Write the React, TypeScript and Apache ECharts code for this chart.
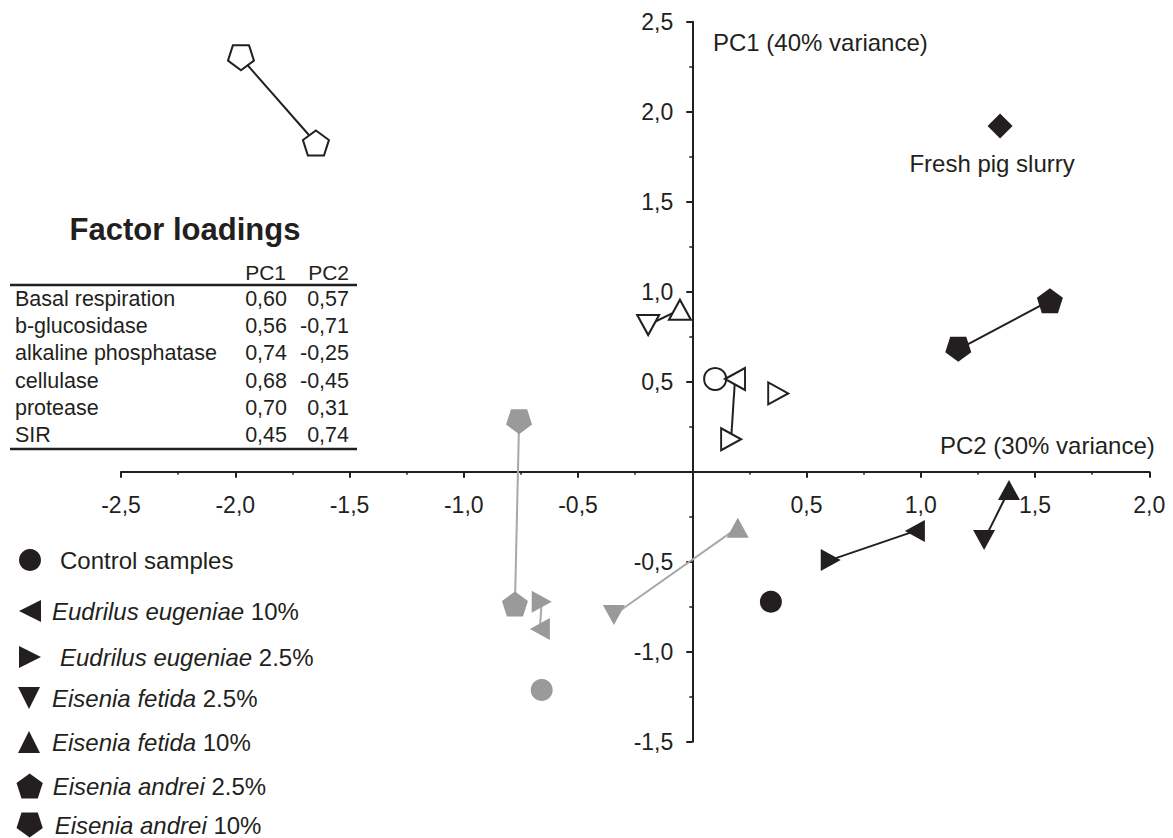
import React, { useEffect, useRef } from "react";
import * as echarts from "echarts";

// ---------- DATA ----------
const treatments = [
  "Control samples",
  "Eudrilus eugeniae 10%",
  "Eudrilus eugeniae 2.5%",
  "Eisenia fetida 2.5%",
  "Eisenia fetida 10%",
  "Eisenia andrei 2.5%",
  "Eisenia andrei 10%",
];

// each entry: [treatment index, PC2 score (x), PC1 score (y)]
const openScores: [number, number, number][] = [
  [0, 0.1, 0.515],
  [1, 0.187, 0.515],
  [2, 0.17, 0.18],
  [2, 0.376, 0.435],
  [3, -0.193, 0.815],
  [4, -0.054, 0.9],
  [6, -1.975, 2.3],
  [5, -1.647, 1.826],
];
const openLinks = [[1, 2], [4, 5], [6, 7]];

const grayScores: [number, number, number][] = [
  [0, -0.659, -1.213],
  [2, -0.659, -0.722],
  [1, -0.667, -0.874],
  [3, -0.343, -0.796],
  [4, 0.199, -0.311],
  [6, -0.758, 0.278],
  [5, -0.776, -0.735],
];
const grayLinks = [[1, 2], [3, 4], [5, 6]];

const blackScores: [number, number, number][] = [
  [0, 0.344, -0.722],
  [1, 0.974, -0.33],
  [2, 0.606, -0.49],
  [4, 1.386, -0.102],
  [3, 1.277, -0.38],
  [6, 1.164, 0.68],
  [5, 1.565, 0.95],
];
const blackLinks = [[1, 2], [3, 4], [5, 6]];

const slurryName = "Fresh pig slurry";
const slurryScore = [1.347, 1.92];

const pc2Range = [-2.5, 2.0];
const pc1Range = [-1.5, 2.5];
const tickStep = 0.5;

const xAxisTitle = "PC2 (30% variance)";
const yAxisTitle = "PC1 (40% variance)";

const tableTitle = "Factor loadings";
const tableHeaders = ["PC1", "PC2"];
const loadingVariables = [
  "Basal respiration",
  "b-glucosidase",
  "alkaline phosphatase",
  "cellulase",
  "protease",
  "SIR",
];
const loadingsPC1 = [0.6, 0.56, 0.74, 0.68, 0.7, 0.45];
const loadingsPC2 = [0.57, -0.71, -0.25, -0.45, 0.31, 0.74];

// ---------- STYLE ----------
const INK = "#231f20";
const GRAY = "#9a9a9a";
const GRAY_LINE = "#a8a8a8";
const FONT = '"Liberation Sans", Arial, Helvetica, sans-serif';

const GRID = { left: 121, top: 21.7, width: 1028.3, height: 720 };

const PENT_UP = "path://M50,0 L97.55,34.55 L79.39,90.45 L20.61,90.45 L2.45,34.55 Z";
const PENT_DOWN = "path://M50,90.45 L97.55,55.9 L79.39,0 L20.61,0 L2.45,55.9 Z";
const symbols = [
  "circle",
  "path://M0,5 L10,0 L10,10 Z",
  "path://M0,0 L10,5 L0,10 Z",
  "path://M0,0 L10,0 L5,10 Z",
  "path://M5,0 L10,10 L0,10 Z",
  PENT_UP,
  PENT_DOWN,
];
const symbolSizes: [number, number][] = [
  [22, 22],
  [20, 22],
  [20, 22],
  [22, 20],
  [22, 20],
  [26, 25],
  [26, 25],
];

const groupStyles = {
  open: { color: "#ffffff", borderColor: INK, borderWidth: 2, opacity: 1 },
  gray: { color: GRAY, borderColor: GRAY, borderWidth: 0, opacity: 1 },
  black: { color: INK, borderColor: INK, borderWidth: 0, opacity: 1 },
};

const groups = [
  { scores: openScores, links: openLinks, style: groupStyles.open, line: INK },
  { scores: grayScores, links: grayLinks, style: groupStyles.gray, line: GRAY_LINE },
  { scores: blackScores, links: blackLinks, style: groupStyles.black, line: INK },
];

// legend layout
const legendCY = [560, 611, 657, 698, 742, 786, 825];
const legendIconSize: [number, number][] = [
  [22, 22],
  [22, 23],
  [22, 24],
  [24, 22],
  [24, 22],
  [27, 25],
  [27, 25],
];
const legendTextX = [60, 52, 60, 53, 53, 53, 55];

const fmt = (v: number, d = 1) => v.toFixed(d).replace(".", ",");

function buildOption() {
  const scatterSeries = treatments.map((name, ti) => {
    const data: any[] = [];
    groups.forEach((g) => {
      g.scores.forEach((s) => {
        if (s[0] === ti) data.push({ value: [s[1], s[2]], itemStyle: { ...g.style } });
      });
    });
    return {
      type: "scatter",
      name,
      symbol: symbols[ti],
      symbolSize: symbolSizes[ti],
      data,
      z: 5,
      itemStyle: { opacity: 1 },
      emphasis: { disabled: true },
    };
  });

  const lineSeries: any[] = [];
  groups.forEach((g) => {
    g.links.forEach(([a, b]) => {
      lineSeries.push({
        type: "line",
        symbol: "none",
        data: [
          [g.scores[a][1], g.scores[a][2]],
          [g.scores[b][1], g.scores[b][2]],
        ],
        lineStyle: { color: g.line, width: 2, opacity: 1 },
        z: 2,
        silent: true,
      });
    });
  });

  const slurrySeries = {
    type: "scatter",
    name: slurryName,
    symbol: "diamond",
    symbolSize: [25, 25],
    data: [slurryScore],
    itemStyle: { color: INK, opacity: 1 },
    z: 5,
    emphasis: { disabled: true },
    label: {
      show: true,
      position: "bottom",
      distance: 13,
      offset: [-8, 0],
      formatter: slurryName,
      fontSize: 24,
      fontFamily: FONT,
      color: INK,
      opacity: 1,
    },
  };

  const legends = treatments.map((name, i) => {
    const [w, h] = legendIconSize[i];
    const left = 30 - w / 2;
    const H = Math.max(h, 24);
    const pad = legendTextX[i] - left - w - 5;
    return {
      data: [{ name, icon: symbols[i], itemStyle: { color: INK, borderWidth: 0, opacity: 1 } }],
      left,
      top: legendCY[i] - H / 2,
      padding: 0,
      itemWidth: w,
      itemHeight: h,
      selectedMode: false,
      formatter: (n: string) => {
        if (n.startsWith("Control")) return n;
        const k = n.lastIndexOf(" ");
        return `{it|${n.slice(0, k)}} ${n.slice(k + 1)}`;
      },
      textStyle: {
        fontSize: 24,
        fontFamily: FONT,
        color: INK,
        padding: [0, 0, 0, pad],
        rich: {
          it: { fontStyle: "italic", fontSize: 24, fontFamily: FONT, color: INK },
        },
      },
    };
  });

  const txt = (text: string, x: number, y: number, opts: any = {}) => ({
    type: "text",
    x,
    y,
    silent: true,
    style: {
      text,
      fill: INK,
      fontSize: opts.fontSize || 21,
      fontWeight: opts.fontWeight || "normal",
      fontFamily: FONT,
      align: opts.align || "left",
      textAlign: opts.align || "left",
      verticalAlign: "middle",
      textVerticalAlign: "middle",
    },
  });

  const rowY0 = 299;
  const rowStep = 27.2;
  const graphics: any[] = [
    txt(tableTitle, 185, 229, { fontSize: 31, fontWeight: "bold", align: "center" }),
    txt(tableHeaders[0], 286, 272, { align: "right" }),
    txt(tableHeaders[1], 349, 272, { align: "right" }),
    {
      type: "line",
      silent: true,
      shape: { x1: 10, y1: 285, x2: 357, y2: 285 },
      style: { stroke: INK, lineWidth: 2.5 },
    },
    {
      type: "line",
      silent: true,
      shape: { x1: 10, y1: 449, x2: 357, y2: 449 },
      style: { stroke: INK, lineWidth: 2.5 },
    },
    txt(yAxisTitle, 713, 42, { fontSize: 24 }),
    txt(xAxisTitle, 940, 445, { fontSize: 24 }),
  ];
  loadingVariables.forEach((v, i) => {
    const y = rowY0 + i * rowStep;
    graphics.push(txt(v, 15, y, { fontSize: 21.5 }));
    graphics.push(txt(fmt(loadingsPC1[i], 2), 287, y, { align: "right", fontSize: 21.5 }));
    graphics.push(txt(fmt(loadingsPC2[i], 2), 349, y, { align: "right", fontSize: 21.5 }));
  });

  // place axes at the zero crossing (computed from the scale ranges)
  const xZeroFromBottom = (0 - pc1Range[0]) / (pc1Range[1] - pc1Range[0]) * GRID.height;
  const yZeroFromLeft = (0 - pc2Range[0]) / (pc2Range[1] - pc2Range[0]) * GRID.width;

  const axisCommon = {
    type: "value",
    interval: tickStep,
    splitLine: { show: false },
    axisLine: { show: true, onZero: false, lineStyle: { color: INK, width: 2 } },
    axisTick: { show: true, length: 6, lineStyle: { color: INK, width: 2 } },
    minorTick: { show: true, splitNumber: 2, length: 3, lineStyle: { color: INK, width: 1.5 } },
    minorSplitLine: { show: false },
  };

  return {
    animation: false,
    backgroundColor: "#ffffff",
    textStyle: { fontFamily: FONT },
    grid: { ...GRID, containLabel: false },
    xAxis: {
      ...axisCommon,
      position: "bottom",
      offset: -xZeroFromBottom,
      min: pc2Range[0],
      max: pc2Range[1],
      axisLabel: {
        show: true,
        showMinLabel: true,
        showMaxLabel: true,
        hideOverlap: false,
        margin: 22,
        fontSize: 23,
        fontFamily: FONT,
        color: INK,
        formatter: (v: number) => (Math.abs(v) < 1e-9 ? "" : fmt(v)),
      },
    },
    yAxis: {
      ...axisCommon,
      position: "left",
      offset: -yZeroFromLeft,
      min: pc1Range[0],
      max: pc1Range[1],
      axisLabel: {
        show: true,
        showMinLabel: true,
        showMaxLabel: true,
        hideOverlap: false,
        margin: 19,
        fontSize: 23,
        fontFamily: FONT,
        color: INK,
        formatter: (v: number) => (Math.abs(v) < 1e-9 ? "" : fmt(v)),
      },
    },
    legend: legends,
    graphic: graphics,
    series: [...lineSeries, ...scatterSeries, slurrySeries],
  };
}

export default function App() {
  const ref = useRef<HTMLDivElement>(null);
  useEffect(() => {
    if (!ref.current) return;
    const chart = echarts.init(ref.current, null, { renderer: "svg" });
    chart.setOption(buildOption() as any);
    return () => chart.dispose();
  }, []);
  return (
    <div
      ref={ref}
      style={{ position: "fixed", left: 0, top: 0, width: 1173, height: 838, background: "#fff" }}
    />
  );
}
